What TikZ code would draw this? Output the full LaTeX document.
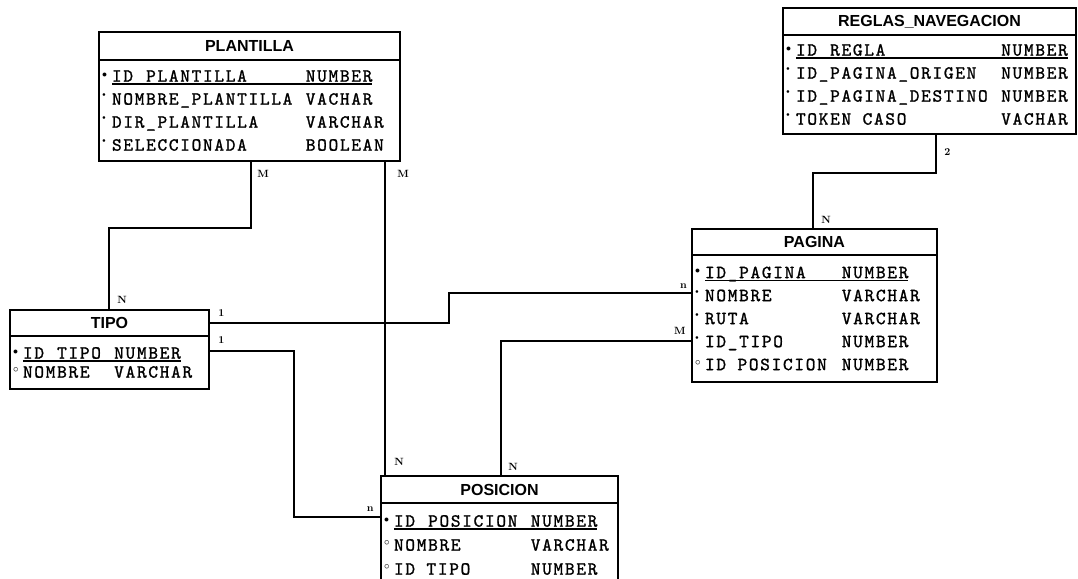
\documentclass[tikz,border=0pt]{standalone}
\usepackage{fontspec}
\newfontfamily\cabfont{Liberation Sans}
\newfontfamily\campofont{lmmono10-regular.otf}[LetterSpace=9, FakeBold=1.2]
\usetikzlibrary{positioning}

% ancho de un caracter del cuerpo
\newlength\chw
\setlength\chw{11.4pt}
\newsavebox\filapk
% marcas: clave, obligatorio, opcional
\newcommand\mpk{\makebox[10pt][l]{\raisebox{4.5pt}{\fontsize{10}{10}\selectfont$\bullet$}}}
\newcommand\mob{\makebox[10pt][l]{\raisebox{8pt}{\fontsize{6}{6}\selectfont$\bullet$}}}
\newcommand\mop{\makebox[10pt][l]{\raisebox{5pt}{\fontsize{11}{11}\selectfont$\circ$}}}
\newcommand\esp{\hspace*{\chw}}
\newcommand\campo[4]{#1\makebox[#2\chw][l]{#3}#4}
\newcommand\campopk[3]{\mpk\sbox\filapk{\makebox[#1\chw][l]{#2}#3}%
  \rlap{\rule[-3pt]{\wd\filapk}{1.4pt}}\usebox\filapk}

\begin{document}
\begin{tikzpicture}[x=1pt, y=-1pt,
  titulo/.style = {rectangle, draw, line width=2.6pt, outer sep=0pt, fill=white,
                   inner sep=0pt, minimum height=27pt,
                   font=\cabfont\bfseries\fontsize{16}{16}\selectfont},
  cuerpo/.style = {rectangle, draw, line width=2.6pt, outer sep=0pt, fill=white,
                   inner xsep=3pt, inner ysep=0pt, align=left,
                   font=\campofont\fontsize{18.5}{23}\selectfont},
  rel/.style    = {line width=2.6pt},
  card/.style   = {inner sep=0pt, font=\rmfamily\bfseries\fontsize{10.5}{10.5}\selectfont},
]
\useasboundingbox (0,0) rectangle (1078,578);
% entidades
\node[titulo, minimum width=301pt, minimum height=28pt, anchor=north west] (plantilla) at (99,32) {PLANTILLA};
\node[cuerpo, text width=295pt, minimum height=101pt, below=0pt of plantilla] (plantillab) {%
  \campopk{17}{ID\_PLANTILLA}{NUMBER}\\
  \campo{\mob}{17}{NOMBRE\_PLANTILLA}{VACHAR}\\
  \campo{\mob}{17}{DIR\_PLANTILLA}{VARCHAR}\\
  \campo{\mob}{17}{SELECCIONADA}{BOOLEAN}};
\node[titulo, minimum width=293pt, anchor=north west] (reglas) at (783,8) {REGLAS\_NAVEGACION};
\node[cuerpo, text width=287pt, minimum height=99pt, below=0pt of reglas] (reglasb) {%
  \campopk{18}{ID\_REGLA}{NUMBER}\\
  \campo{\mob}{18}{ID\_PAGINA\_ORIGEN}{NUMBER}\\
  \campo{\mob}{18}{ID\_PAGINA\_DESTINO}{NUMBER}\\
  \campo{\mob}{18}{TOKEN\esp CASO}{VACHAR}};
\node[titulo, minimum width=245pt, minimum height=26pt, anchor=north west] (pagina) at (692,229) {PAGINA};
\node[cuerpo, text width=239pt, minimum height=127pt, below=0pt of pagina] (paginab) {%
  \campopk{12}{ID\_PAGINA}{NUMBER}\\
  \campo{\mob}{12}{NOMBRE}{VARCHAR}\\
  \campo{\mob}{12}{RUTA}{VARCHAR}\\
  \campo{\mob}{12}{ID\_TIPO}{NUMBER}\\
  \campo{\mop}{12}{ID\esp POSICION}{NUMBER}};
\node[titulo, minimum width=199pt, minimum height=26pt, anchor=north west] (tipo) at (10,310) {TIPO};
\node[cuerpo, text width=193pt, minimum height=53pt, below=0pt of tipo] (tipob) {%
  \campopk{8}{ID\_TIPO}{NUMBER}\\[-4pt]
  \campo{\mop}{8}{NOMBRE}{VARCHAR}};
\node[titulo, minimum width=237pt, anchor=north west] (posicion) at (381,476) {POSICION};
\node[cuerpo, text width=231pt, minimum height=84pt, below=0pt of posicion] (posicionb) {%
  \campopk{12}{ID\_POSICION}{NUMBER}\\[1pt]
  \campo{\mop}{12}{NOMBRE}{VARCHAR}\\[1pt]
  \campo{\mop}{12}{ID\esp TIPO}{NUMBER}};
% relaciones
\draw[rel] ([xshift=152pt]plantillab.south west)
    node[card, anchor=north west, xshift=5pt, yshift=-8pt] {M}
  -- ++(0,67) -| ([xshift=99pt]tipo.north west)
    node[card, anchor=south west, xshift=7pt, yshift=5pt] {N};
\draw[rel] ([xshift=286pt]plantillab.south west)
    node[card, anchor=north west, xshift=11pt, yshift=-8pt] {M}
  -- ([xshift=4pt]posicion.north west)
    node[card, anchor=south west, xshift=8pt, yshift=9pt] {N};
\draw[rel] (tipo.east)
    node[card, anchor=south west, xshift=8pt, yshift=5pt] {1}
  -- ++(240,0) |- ([yshift=-38pt]paginab.north west)
    node[card, anchor=south east, xshift=-4pt, yshift=3pt] {n};
\draw[rel] ([yshift=-15pt]tipob.north east)
    node[card, anchor=south west, xshift=8pt, yshift=6pt] {1}
  -- ++(85,0) |- ([yshift=-14pt]posicionb.north west)
    node[card, anchor=south east, xshift=-6pt, yshift=4pt] {n};
\draw[rel] ([yshift=-86pt]paginab.north west)
    node[card, anchor=south east, xshift=-5pt, yshift=5pt] {M}
  -- ++(-191,0) -| ([xshift=120pt]posicion.north west)
    node[card, anchor=south west, xshift=6pt, yshift=4pt] {N};
\draw[rel] ([xshift=153pt]reglasb.south west)
    node[card, anchor=north west, xshift=7pt, yshift=-13pt] {2}
  -- ++(0,39) -| ([xshift=121pt]pagina.north west)
    node[card, anchor=south west, xshift=7pt, yshift=4pt] {N};
\end{tikzpicture}
\end{document}
